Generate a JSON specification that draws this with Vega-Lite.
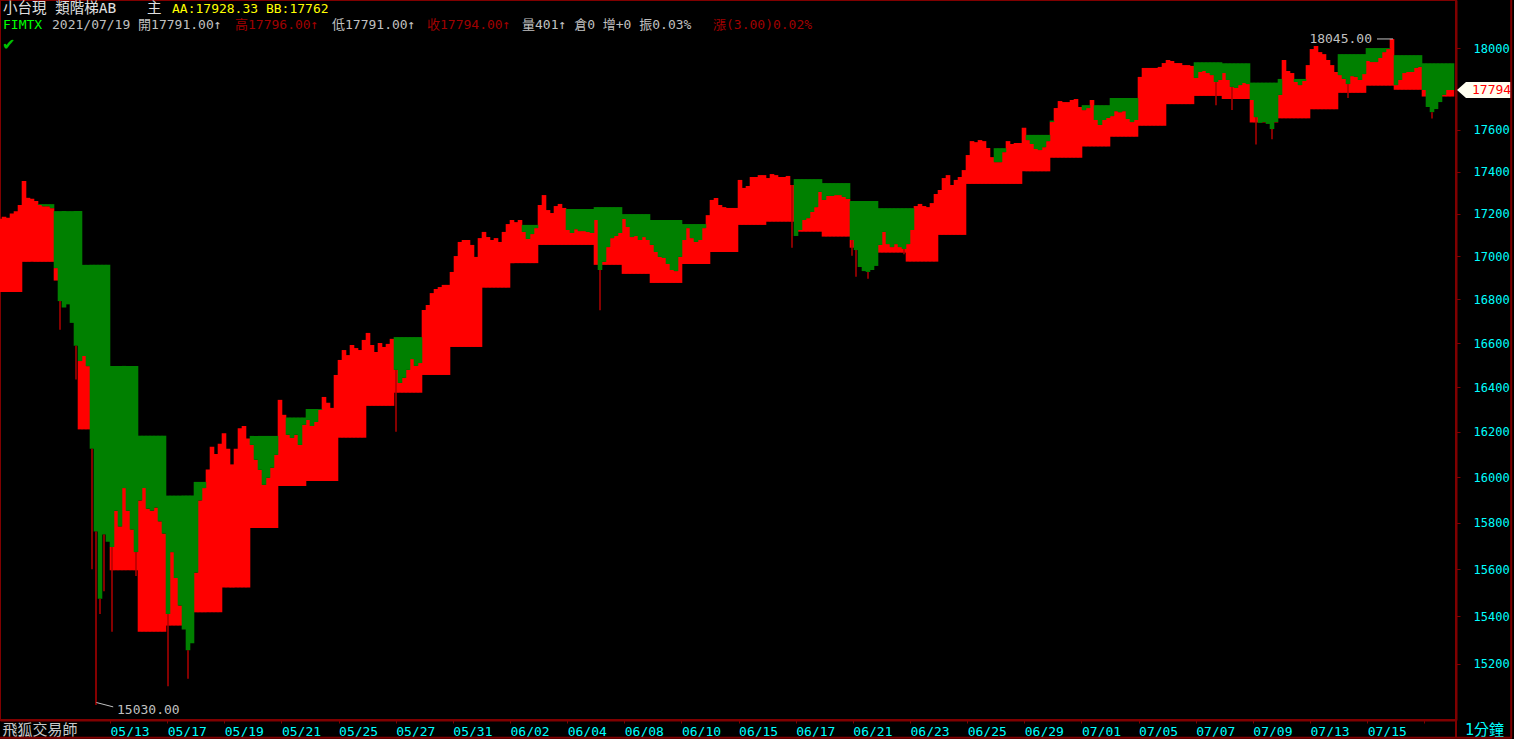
{
"$schema":"https://vega.github.io/schema/vega-lite/v6.json",
"width":1456,"height":720,
"autosize":{"type":"none"},
"padding":{"left":0,"top":0,"right":58,"bottom":19},
"background":"#000000",
"view":{"stroke":"#800000","strokeWidth":2},
"data":{"values":[
{"i":0,"p":17176,"u":17120,"l":16834},{"i":1,"p":17186,"u":17120,"l":16834},{"i":2,"p":17181,"u":17120,"l":16834},{"i":3,"p":17201,"u":17120,"l":16834},{"i":4,"p":17211,"u":17120,"l":16834},{"i":5,"p":17241,"u":17120,"l":16834},
{"i":6,"p":17355,"u":17120,"l":16974},{"i":7,"p":17275,"u":17120,"l":16974},{"i":8,"p":17270,"u":17120,"l":16974},{"i":9,"p":17260,"u":17120,"l":16974},
{"i":10,"p":17241,"u":17245,"l":16974},{"i":11,"p":17235,"u":17245,"l":16974},{"i":12,"p":17235,"u":17245,"l":16974},{"i":13,"p":17226,"u":17245,"l":16974},
{"i":14,"p":16945,"u":17212,"l":16887},{"i":15,"p":16792,"u":17212,"l":16887,"lo":16660},{"i":16,"p":16763,"u":17212,"l":16887},{"i":17,"p":16777,"u":17212,"l":16887},{"i":18,"p":16692,"u":17212,"l":16887},{"i":19,"p":16588,"u":17212,"l":16887,"lo":16434},
{"i":20,"p":16518,"u":17212,"l":16211},{"i":21,"p":16541,"u":16960,"l":16211},{"i":22,"p":16495,"u":16960,"l":16211},{"i":23,"p":16125,"u":16960,"l":16211,"lo":15600},{"i":24,"p":15763,"u":16960,"l":16211,"lo":15030},{"i":25,"p":15475,"u":16960,"l":16211,"lo":15410},{"i":26,"p":15750,"u":16960,"l":16211,"lo":15506},{"i":27,"p":15719,"u":16960,"l":16211},
{"i":28,"p":15696,"u":16496,"l":15596,"lo":15335},{"i":29,"p":15853,"u":16496,"l":15596},{"i":30,"p":15785,"u":16496,"l":15596},{"i":31,"p":15952,"u":16496,"l":15596},{"i":32,"p":15853,"u":16496,"l":15596},{"i":33,"p":15772,"u":16496,"l":15596},{"i":34,"p":15674,"u":16496,"l":15596,"lo":15572},
{"i":35,"p":15898,"u":16183,"l":15335},{"i":36,"p":15952,"u":16183,"l":15335},{"i":37,"p":15862,"u":16183,"l":15335},{"i":38,"p":15853,"u":16183,"l":15335},{"i":39,"p":15867,"u":16183,"l":15335},{"i":40,"p":15807,"u":16183,"l":15335},{"i":41,"p":15754,"u":16183,"l":15335},
{"i":42,"p":15410,"u":15919,"l":15361,"lo":15107},{"i":43,"p":15674,"u":15919,"l":15361},{"i":44,"p":15563,"u":15919,"l":15361},{"i":45,"p":15446,"u":15919,"l":15361},{"i":46,"p":15344,"u":15919,"l":15361},{"i":47,"p":15257,"u":15919,"l":15361,"lo":15138},{"i":48,"p":15287,"u":15919,"l":15361},
{"i":49,"p":15586,"u":15979,"l":15417},{"i":50,"p":15898,"u":15979,"l":15417},{"i":51,"p":15952,"u":15979,"l":15417},{"i":52,"p":16034,"u":15979,"l":15417},{"i":53,"p":16134,"u":15979,"l":15417},{"i":54,"p":16102,"u":15979,"l":15417},{"i":55,"p":16147,"u":15979,"l":15417},
{"i":56,"p":16194,"u":15979,"l":15522},{"i":57,"p":16125,"u":15979,"l":15522},{"i":58,"p":16056,"u":15979,"l":15522},{"i":59,"p":16125,"u":15979,"l":15522},{"i":60,"p":16216,"u":15979,"l":15522},{"i":61,"p":16226,"u":15979,"l":15522},{"i":62,"p":16170,"u":15979,"l":15522},
{"i":63,"p":16142,"u":16182,"l":15778},{"i":64,"p":16076,"u":16182,"l":15778},{"i":65,"p":16032,"u":16182,"l":15778},{"i":66,"p":15966,"u":16182,"l":15778},{"i":67,"p":15997,"u":16182,"l":15778},{"i":68,"p":16041,"u":16182,"l":15778},{"i":69,"p":16098,"u":16182,"l":15778},
{"i":70,"p":16343,"u":16264,"l":15961},{"i":71,"p":16276,"u":16264,"l":15961},{"i":72,"p":16187,"u":16264,"l":15961},{"i":73,"p":16173,"u":16264,"l":15961},{"i":74,"p":16187,"u":16264,"l":15961},{"i":75,"p":16142,"u":16264,"l":15961},{"i":76,"p":16231,"u":16264,"l":15961},
{"i":77,"p":16253,"u":16302,"l":15983},{"i":78,"p":16226,"u":16302,"l":15983},{"i":79,"p":16244,"u":16302,"l":15983},{"i":80,"p":16298,"u":16302,"l":15983},{"i":81,"p":16356,"u":16302,"l":15983},{"i":82,"p":16330,"u":16302,"l":15983},{"i":83,"p":16307,"u":16302,"l":15983},{"i":84,"p":16455,"u":16302,"l":15983},
{"i":85,"p":16523,"u":16302,"l":16174},{"i":86,"p":16568,"u":16302,"l":16174},{"i":87,"p":16545,"u":16302,"l":16174},{"i":88,"p":16591,"u":16302,"l":16174},{"i":89,"p":16577,"u":16302,"l":16174},{"i":90,"p":16568,"u":16302,"l":16174},{"i":91,"p":16614,"u":16302,"l":16174},
{"i":92,"p":16646,"u":16302,"l":16316},{"i":93,"p":16591,"u":16302,"l":16316},{"i":94,"p":16559,"u":16302,"l":16316},{"i":95,"p":16600,"u":16302,"l":16316},{"i":96,"p":16582,"u":16302,"l":16316},{"i":97,"p":16596,"u":16302,"l":16316},{"i":98,"p":16619,"u":16302,"l":16316},
{"i":99,"p":16478,"u":16627,"l":16375,"lo":16200},{"i":100,"p":16419,"u":16627,"l":16375},{"i":101,"p":16442,"u":16627,"l":16375},{"i":102,"p":16478,"u":16627,"l":16375},{"i":103,"p":16527,"u":16627,"l":16375},{"i":104,"p":16496,"u":16627,"l":16375},{"i":105,"p":16509,"u":16627,"l":16375},
{"i":106,"p":16751,"u":16627,"l":16455},{"i":107,"p":16774,"u":16627,"l":16455},{"i":108,"p":16829,"u":16627,"l":16455},{"i":109,"p":16848,"u":16627,"l":16455},{"i":110,"p":16857,"u":16627,"l":16455},{"i":111,"p":16867,"u":16627,"l":16455},{"i":112,"p":16867,"u":16627,"l":16455},
{"i":113,"p":16927,"u":16627,"l":16582},{"i":114,"p":17001,"u":16627,"l":16582},{"i":115,"p":17067,"u":16627,"l":16582},{"i":116,"p":17076,"u":16627,"l":16582},{"i":117,"p":17076,"u":16627,"l":16582},{"i":118,"p":17053,"u":16627,"l":16582},{"i":119,"p":16997,"u":16627,"l":16582},{"i":120,"p":17085,"u":16627,"l":16582},
{"i":121,"p":17114,"u":16627,"l":16854},{"i":122,"p":17090,"u":16627,"l":16854},{"i":123,"p":17076,"u":16627,"l":16854},{"i":124,"p":17085,"u":16627,"l":16854},{"i":125,"p":17067,"u":16627,"l":16854},{"i":126,"p":17114,"u":16627,"l":16854},{"i":127,"p":17151,"u":16627,"l":16854},
{"i":128,"p":17170,"u":16627,"l":16968},{"i":129,"p":17160,"u":16627,"l":16968},{"i":130,"p":17170,"u":16627,"l":16968},{"i":131,"p":17114,"u":17147,"l":16968},{"i":132,"p":17081,"u":17147,"l":16968},{"i":133,"p":17104,"u":17147,"l":16968},{"i":134,"p":17132,"u":17147,"l":16968},
{"i":135,"p":17241,"u":17147,"l":17053},{"i":136,"p":17288,"u":17147,"l":17053},{"i":137,"p":17217,"u":17147,"l":17053},{"i":138,"p":17203,"u":17147,"l":17053},{"i":139,"p":17236,"u":17147,"l":17053},{"i":140,"p":17246,"u":17147,"l":17053},{"i":141,"p":17227,"u":17147,"l":17053},
{"i":142,"p":17123,"u":17222,"l":17053},{"i":143,"p":17109,"u":17222,"l":17053},{"i":144,"p":17127,"u":17222,"l":17053},{"i":145,"p":17118,"u":17222,"l":17053},{"i":146,"p":17118,"u":17222,"l":17053},{"i":147,"p":17114,"u":17222,"l":17053},{"i":148,"p":17109,"u":17222,"l":17053},
{"i":149,"p":17170,"u":17231,"l":16960},{"i":150,"p":16936,"u":17231,"l":16960,"lo":16750},{"i":151,"p":16974,"u":17231,"l":16960},{"i":152,"p":17043,"u":17231,"l":16960},{"i":153,"p":17085,"u":17231,"l":16960},{"i":154,"p":17095,"u":17231,"l":16960},{"i":155,"p":17109,"u":17231,"l":16960},
{"i":156,"p":17175,"u":17198,"l":16918},{"i":157,"p":17137,"u":17198,"l":16918},{"i":158,"p":17090,"u":17198,"l":16918},{"i":159,"p":17095,"u":17198,"l":16918},{"i":160,"p":17076,"u":17198,"l":16918},{"i":161,"p":17090,"u":17198,"l":16918},{"i":162,"p":17076,"u":17198,"l":16918},
{"i":163,"p":17053,"u":17170,"l":16876},{"i":164,"p":17020,"u":17170,"l":16876},{"i":165,"p":16997,"u":17170,"l":16876},{"i":166,"p":16992,"u":17170,"l":16876},{"i":167,"p":16964,"u":17170,"l":16876},{"i":168,"p":16936,"u":17170,"l":16876},{"i":169,"p":16931,"u":17170,"l":16876},{"i":170,"p":16997,"u":17170,"l":16876},
{"i":171,"p":17076,"u":17151,"l":16964},{"i":172,"p":17132,"u":17151,"l":16964},{"i":173,"p":17085,"u":17151,"l":16964},{"i":174,"p":17067,"u":17151,"l":16964},{"i":175,"p":17076,"u":17151,"l":16964},{"i":176,"p":17132,"u":17151,"l":16964},{"i":177,"p":17193,"u":17151,"l":16964},
{"i":178,"p":17265,"u":17076,"l":17020},{"i":179,"p":17274,"u":17076,"l":17020},{"i":180,"p":17241,"u":17076,"l":17020},{"i":181,"p":17231,"u":17076,"l":17020},{"i":182,"p":17227,"u":17076,"l":17020},{"i":183,"p":17227,"u":17076,"l":17020},{"i":184,"p":17227,"u":17076,"l":17020},
{"i":185,"p":17360,"u":17076,"l":17147},{"i":186,"p":17322,"u":17076,"l":17147},{"i":187,"p":17331,"u":17076,"l":17147},{"i":188,"p":17374,"u":17076,"l":17147},{"i":189,"p":17374,"u":17076,"l":17147},{"i":190,"p":17383,"u":17076,"l":17147},{"i":191,"p":17383,"u":17076,"l":17147},
{"i":192,"p":17369,"u":17076,"l":17162},{"i":193,"p":17388,"u":17076,"l":17162},{"i":194,"p":17383,"u":17076,"l":17162},{"i":195,"p":17374,"u":17076,"l":17162},{"i":196,"p":17374,"u":17076,"l":17162},{"i":197,"p":17379,"u":17076,"l":17162},{"i":198,"p":17336,"u":17076,"l":17162,"lo":17040},
{"i":199,"p":17095,"u":17364,"l":17115},{"i":200,"p":17123,"u":17364,"l":17115},{"i":201,"p":17170,"u":17364,"l":17115},{"i":202,"p":17179,"u":17364,"l":17115},{"i":203,"p":17208,"u":17364,"l":17115},{"i":204,"p":17231,"u":17364,"l":17115},{"i":205,"p":17303,"u":17364,"l":17115},
{"i":206,"p":17265,"u":17345,"l":17092},{"i":207,"p":17284,"u":17345,"l":17092},{"i":208,"p":17284,"u":17345,"l":17092},{"i":209,"p":17288,"u":17345,"l":17092},{"i":210,"p":17288,"u":17345,"l":17092},{"i":211,"p":17279,"u":17345,"l":17092},{"i":212,"p":17270,"u":17345,"l":17092},
{"i":213,"p":17076,"u":17260,"l":17040,"lo":17003},{"i":214,"p":17029,"u":17260,"l":17040,"lo":16905},{"i":215,"p":16950,"u":17260,"l":17040},{"i":216,"p":16931,"u":17260,"l":17040},{"i":217,"p":16927,"u":17260,"l":17040,"lo":16895},{"i":218,"p":16936,"u":17260,"l":17040},{"i":219,"p":16955,"u":17260,"l":17040},
{"i":220,"p":17053,"u":17226,"l":17017},{"i":221,"p":17114,"u":17226,"l":17017},{"i":222,"p":17057,"u":17226,"l":17017},{"i":223,"p":17043,"u":17226,"l":17017},{"i":224,"p":17057,"u":17226,"l":17017},{"i":225,"p":17043,"u":17226,"l":17017},{"i":226,"p":17034,"u":17226,"l":17017,"lo":17010},
{"i":227,"p":17057,"u":17226,"l":16975},{"i":228,"p":17123,"u":17226,"l":16975},{"i":229,"p":17236,"u":17226,"l":16975},{"i":230,"p":17246,"u":17226,"l":16975},{"i":231,"p":17236,"u":17226,"l":16975},{"i":232,"p":17231,"u":17226,"l":16975},{"i":233,"p":17250,"u":17226,"l":16975},{"i":234,"p":17293,"u":17226,"l":16975},
{"i":235,"p":17312,"u":17076,"l":17100},{"i":236,"p":17369,"u":17076,"l":17100},{"i":237,"p":17383,"u":17076,"l":17100},{"i":238,"p":17336,"u":17076,"l":17100},{"i":239,"p":17360,"u":17076,"l":17100},{"i":240,"p":17374,"u":17076,"l":17100},{"i":241,"p":17407,"u":17076,"l":17100},
{"i":242,"p":17479,"u":17076,"l":17341},{"i":243,"p":17546,"u":17076,"l":17341},{"i":244,"p":17541,"u":17076,"l":17341},{"i":245,"p":17551,"u":17076,"l":17341},{"i":246,"p":17546,"u":17076,"l":17341},{"i":247,"p":17513,"u":17076,"l":17341},{"i":248,"p":17469,"u":17076,"l":17341},
{"i":249,"p":17445,"u":17512,"l":17341},{"i":250,"p":17445,"u":17512,"l":17341},{"i":251,"p":17493,"u":17512,"l":17341},{"i":252,"p":17546,"u":17512,"l":17341},{"i":253,"p":17532,"u":17512,"l":17341},{"i":254,"p":17537,"u":17512,"l":17341},{"i":255,"p":17537,"u":17512,"l":17341},
{"i":256,"p":17610,"u":17576,"l":17401},{"i":257,"p":17551,"u":17576,"l":17401},{"i":258,"p":17532,"u":17576,"l":17401},{"i":259,"p":17508,"u":17576,"l":17401},{"i":260,"p":17503,"u":17576,"l":17401},{"i":261,"p":17517,"u":17576,"l":17401},{"i":262,"p":17546,"u":17576,"l":17401},
{"i":263,"p":17638,"u":17645,"l":17466},{"i":264,"p":17706,"u":17645,"l":17466},{"i":265,"p":17740,"u":17645,"l":17466},{"i":266,"p":17735,"u":17645,"l":17466},{"i":267,"p":17735,"u":17645,"l":17466},{"i":268,"p":17745,"u":17645,"l":17466},{"i":269,"p":17750,"u":17645,"l":17466},{"i":270,"p":17711,"u":17645,"l":17466},
{"i":271,"p":17696,"u":17720,"l":17520},{"i":272,"p":17706,"u":17720,"l":17520},{"i":273,"p":17745,"u":17720,"l":17520},{"i":274,"p":17648,"u":17720,"l":17520},{"i":275,"p":17624,"u":17720,"l":17520},{"i":276,"p":17648,"u":17720,"l":17520},{"i":277,"p":17658,"u":17720,"l":17520},
{"i":278,"p":17667,"u":17755,"l":17567},{"i":279,"p":17691,"u":17755,"l":17567},{"i":280,"p":17686,"u":17755,"l":17567},{"i":281,"p":17691,"u":17755,"l":17567},{"i":282,"p":17653,"u":17755,"l":17567},{"i":283,"p":17638,"u":17755,"l":17567},{"i":284,"p":17648,"u":17755,"l":17567},
{"i":285,"p":17858,"u":17600,"l":17620},{"i":286,"p":17902,"u":17600,"l":17620},{"i":287,"p":17902,"u":17600,"l":17620},{"i":288,"p":17902,"u":17600,"l":17620},{"i":289,"p":17902,"u":17600,"l":17620},{"i":290,"p":17907,"u":17600,"l":17620},{"i":291,"p":17926,"u":17600,"l":17620},
{"i":292,"p":17941,"u":17600,"l":17725},{"i":293,"p":17936,"u":17600,"l":17725},{"i":294,"p":17926,"u":17600,"l":17725},{"i":295,"p":17926,"u":17600,"l":17725},{"i":296,"p":17916,"u":17600,"l":17725},{"i":297,"p":17916,"u":17600,"l":17725},{"i":298,"p":17912,"u":17600,"l":17725},
{"i":299,"p":17853,"u":17930,"l":17765},{"i":300,"p":17882,"u":17930,"l":17765},{"i":301,"p":17887,"u":17930,"l":17765},{"i":302,"p":17877,"u":17930,"l":17765},{"i":303,"p":17867,"u":17930,"l":17765},{"i":304,"p":17833,"u":17930,"l":17765,"lo":17720},{"i":305,"p":17843,"u":17930,"l":17765},
{"i":306,"p":17877,"u":17925,"l":17750},{"i":307,"p":17843,"u":17925,"l":17750},{"i":308,"p":17809,"u":17925,"l":17750,"lo":17696},{"i":309,"p":17804,"u":17925,"l":17750},{"i":310,"p":17818,"u":17925,"l":17750},{"i":311,"p":17828,"u":17925,"l":17750},{"i":312,"p":17823,"u":17925,"l":17750},
{"i":313,"p":17745,"u":17830,"l":17636},{"i":314,"p":17662,"u":17830,"l":17636,"lo":17530},{"i":315,"p":17634,"u":17830,"l":17636},{"i":316,"p":17638,"u":17830,"l":17636},{"i":317,"p":17629,"u":17830,"l":17636},{"i":318,"p":17604,"u":17830,"l":17636,"lo":17555},{"i":319,"p":17638,"u":17830,"l":17636},
{"i":320,"p":17770,"u":17848,"l":17656},{"i":321,"p":17941,"u":17848,"l":17656},{"i":322,"p":17887,"u":17848,"l":17656},{"i":323,"p":17877,"u":17848,"l":17656},{"i":324,"p":17833,"u":17848,"l":17656},{"i":325,"p":17818,"u":17848,"l":17656},{"i":326,"p":17838,"u":17848,"l":17656},{"i":327,"p":17916,"u":17848,"l":17656},
{"i":328,"p":17995,"u":17794,"l":17700},{"i":329,"p":18010,"u":17794,"l":17700},{"i":330,"p":17980,"u":17794,"l":17700},{"i":331,"p":17970,"u":17794,"l":17700},{"i":332,"p":17941,"u":17794,"l":17700},{"i":333,"p":17916,"u":17794,"l":17700},{"i":334,"p":17882,"u":17794,"l":17700},
{"i":335,"p":17867,"u":17970,"l":17780},{"i":336,"p":17848,"u":17970,"l":17780},{"i":337,"p":17823,"u":17970,"l":17780,"lo":17755},{"i":338,"p":17862,"u":17970,"l":17780},{"i":339,"p":17858,"u":17970,"l":17780},{"i":340,"p":17843,"u":17970,"l":17780},{"i":341,"p":17872,"u":17970,"l":17780},
{"i":342,"p":17936,"u":18000,"l":17815},{"i":343,"p":17931,"u":18000,"l":17815},{"i":344,"p":17931,"u":18000,"l":17815},{"i":345,"p":17951,"u":18000,"l":17815},{"i":346,"p":17980,"u":18000,"l":17815},{"i":347,"p":17995,"u":18000,"l":17815},{"i":348,"p":18045,"u":18000,"l":17815},
{"i":349,"p":17818,"u":17965,"l":17795},{"i":350,"p":17843,"u":17965,"l":17795},{"i":351,"p":17877,"u":17965,"l":17795},{"i":352,"p":17882,"u":17965,"l":17795},{"i":353,"p":17882,"u":17965,"l":17795},{"i":354,"p":17902,"u":17965,"l":17795},{"i":355,"p":17907,"u":17965,"l":17795},
{"i":356,"p":17794,"u":17925,"l":17762},{"i":357,"p":17711,"u":17925,"l":17762},{"i":358,"p":17686,"u":17925,"l":17762,"lo":17655},{"i":359,"p":17701,"u":17925,"l":17762},{"i":360,"p":17735,"u":17925,"l":17762},{"i":361,"p":17770,"u":17925,"l":17762},{"i":362,"p":17794,"u":17925,"l":17762},{"i":363,"p":17794,"u":17925,"l":17762}
]},
"layer":[
{"transform":[{"filter":"datum.p > datum.l"}],
 "mark":{"type":"bar","width":4.6,"color":"#ff0000"},
 "encoding":{
  "x":{"field":"i","type":"quantitative","scale":{"domain":[0,364],"nice":false,"zero":false,"padding":0},
   "axis":{"orient":"bottom","values":[27.5,34.64,41.79,48.93,56.07,63.21,70.36,77.5,84.64,91.79,98.93,106.07,113.21,120.36,127.5,134.64,141.79,148.93,156.07,163.21,170.36,177.5,184.64,191.79,198.93,206.07,213.21,220.36,227.5,234.64,241.79,248.93,256.07,263.21,270.36,277.5,284.64,291.79,298.93,306.07,313.21,320.36,327.5,334.64,341.79,348.93,356.07,363.21],
    "labelExpr":"['05/13','','05/17','','05/19','','05/21','','05/25','','05/27','','05/31','','06/02','','06/04','','06/08','','06/10','','06/15','','06/17','','06/21','','06/23','','06/25','','06/29','','07/01','','07/05','','07/07','','07/09','','07/13','','07/15','','',''][round((datum.value-27.5)/7.143)]",
    "labelAlign":"left","labelBaseline":"top","labelPadding":2,"labelFlush":false,"labelOverlap":false,"labelBound":false,
    "labelColor":"#00ffff","labelFont":"DejaVu Sans Mono","labelFontSize":13,
    "tickColor":"#800000","tickSize":3,"tickWidth":1,"domainColor":"#800000","domainWidth":2,"grid":false,
    "title":"飛狐交易師","titleColor":"#c8c8c8","titleFont":"Noto Sans CJK TC","titleFontSize":15,"titleFontWeight":"normal",
    "titleX":2,"titleY":9,"titleAlign":"left","titleBaseline":"middle","titleAnchor":"start"}},
  "y":{"field":"p","type":"quantitative","scale":{"type":"log","domain":[14968,18239],"nice":false,"padding":0},
   "axis":{"orient":"right","values":[15200,15400,15600,15800,16000,16200,16400,16600,16800,17000,17200,17400,17600,18000],"format":"d",
    "labelColor":"#00ffff","labelFont":"DejaVu Sans Mono","labelFontSize":12,"labelAlign":"left","labelBaseline":"middle","labelPadding":13,
    "labelFlush":false,"labelOverlap":false,"labelBound":false,
    "tickColor":"#800000","tickSize":4,"domainColor":"#800000","domainWidth":2,"grid":false,
    "title":"1分鐘","titleAngle":0,"titleX":28,"titleY":729,"titleAlign":"center","titleBaseline":"middle","titleColor":"#00ffff",
    "titleFont":"DejaVu Sans Mono, Noto Sans CJK TC","titleFontSize":15,"titleFontWeight":"normal"}},
  "y2":{"field":"l"}}},
{"transform":[{"filter":"datum.p < datum.u"}],
 "mark":{"type":"bar","width":4.6,"color":"#008000"},
 "encoding":{
  "x":{"field":"i","type":"quantitative","scale":{"domain":[0,364],"nice":false,"zero":false,"padding":0}},
  "y":{"field":"p","type":"quantitative","scale":{"type":"log","domain":[14968,18239],"nice":false,"padding":0}},
  "y2":{"field":"u"}}},
{"transform":[{"filter":"isValid(datum.lo)"}],
 "mark":{"type":"rule","color":"#b00000","strokeWidth":1.5},
 "encoding":{
  "x":{"field":"i","type":"quantitative","scale":{"domain":[0,364],"nice":false,"zero":false,"padding":0}},
  "y":{"field":"p","type":"quantitative","scale":{"type":"log","domain":[14968,18239],"nice":false,"padding":0}},
  "y2":{"field":"lo"}}},
{"data":{"values":[{}]},"mark":{"type":"rule","color":"#c0c0c0","strokeWidth":1},
 "encoding":{"x":{"datum":24.1,"type":"quantitative","scale":{"domain":[0,364],"nice":false,"zero":false,"padding":0}},"x2":{"datum":28.3},
  "y":{"datum":15040,"type":"quantitative","scale":{"type":"log","domain":[14968,18239],"nice":false,"padding":0}},"y2":{"datum":15022}}},
{"data":{"values":[{}]},"mark":{"type":"text","text":"15030.00","font":"DejaVu Sans Mono","fontSize":13,"color":"#c0c0c0","align":"left","baseline":"middle"},
 "encoding":{"x":{"datum":29.25,"type":"quantitative","scale":{"domain":[0,364],"nice":false,"zero":false,"padding":0}},
  "y":{"datum":15010,"type":"quantitative","scale":{"type":"log","domain":[14968,18239],"nice":false,"padding":0}}}},
{"data":{"values":[{}]},"mark":{"type":"rule","color":"#c0c0c0","strokeWidth":1},
 "encoding":{"x":{"datum":344.25,"type":"quantitative","scale":{"domain":[0,364],"nice":false,"zero":false,"padding":0}},"x2":{"datum":348.25},
  "y":{"datum":18045,"type":"quantitative","scale":{"type":"log","domain":[14968,18239],"nice":false,"padding":0}}}},
{"data":{"values":[{}]},"mark":{"type":"text","text":"18045.00","font":"DejaVu Sans Mono","fontSize":13,"color":"#c0c0c0","align":"right","baseline":"middle"},
 "encoding":{"x":{"datum":343,"type":"quantitative","scale":{"domain":[0,364],"nice":false,"zero":false,"padding":0}},
  "y":{"datum":18045,"type":"quantitative","scale":{"type":"log","domain":[14968,18239],"nice":false,"padding":0}}}},
{"data":{"values":[{}]},"mark":{"type":"text","text":"小台現 類階梯AB","font":"DejaVu Sans Mono, Noto Sans CJK TC","fontSize":14.5,"color":"#e0e0e0","align":"left","baseline":"middle"},
 "encoding":{"x":{"datum":0.75,"type":"quantitative","scale":{"domain":[0,364],"nice":false,"zero":false,"padding":0}},
  "y":{"datum":18194,"type":"quantitative","scale":{"type":"log","domain":[14968,18239],"nice":false,"padding":0}}}},
{"data":{"values":[{}]},"mark":{"type":"text","text":"主","font":"DejaVu Sans Mono, Noto Sans CJK TC","fontSize":14.5,"color":"#e0e0e0","align":"left","baseline":"middle"},
 "encoding":{"x":{"datum":36.75,"type":"quantitative","scale":{"domain":[0,364],"nice":false,"zero":false,"padding":0}},
  "y":{"datum":18194,"type":"quantitative","scale":{"type":"log","domain":[14968,18239],"nice":false,"padding":0}}}},
{"data":{"values":[{}]},"mark":{"type":"text","text":"AA:17928.33 BB:17762","font":"DejaVu Sans Mono, Noto Sans CJK TC","fontSize":13,"color":"#ffff00","align":"left","baseline":"middle"},
 "encoding":{"x":{"datum":43,"type":"quantitative","scale":{"domain":[0,364],"nice":false,"zero":false,"padding":0}},
  "y":{"datum":18194,"type":"quantitative","scale":{"type":"log","domain":[14968,18239],"nice":false,"padding":0}}}},
{"data":{"values":[{}]},"mark":{"type":"text","text":"FIMTX","font":"DejaVu Sans Mono, Noto Sans CJK TC","fontSize":13,"color":"#00ff00","align":"left","baseline":"middle"},
 "encoding":{"x":{"datum":0.75,"type":"quantitative","scale":{"domain":[0,364],"nice":false,"zero":false,"padding":0}},
  "y":{"datum":18114,"type":"quantitative","scale":{"type":"log","domain":[14968,18239],"nice":false,"padding":0}}}},
{"data":{"values":[{}]},"mark":{"type":"text","text":"2021/07/19 開17791.00↑","font":"DejaVu Sans Mono, Noto Sans CJK TC","fontSize":13,"color":"#c0c0c0","align":"left","baseline":"middle"},
 "encoding":{"x":{"datum":13,"type":"quantitative","scale":{"domain":[0,364],"nice":false,"zero":false,"padding":0}},
  "y":{"datum":18114,"type":"quantitative","scale":{"type":"log","domain":[14968,18239],"nice":false,"padding":0}}}},
{"data":{"values":[{}]},"mark":{"type":"text","text":"高17796.00↑","font":"DejaVu Sans Mono, Noto Sans CJK TC","fontSize":13,"color":"#a00000","align":"left","baseline":"middle"},
 "encoding":{"x":{"datum":58.75,"type":"quantitative","scale":{"domain":[0,364],"nice":false,"zero":false,"padding":0}},
  "y":{"datum":18114,"type":"quantitative","scale":{"type":"log","domain":[14968,18239],"nice":false,"padding":0}}}},
{"data":{"values":[{}]},"mark":{"type":"text","text":"低17791.00↑","font":"DejaVu Sans Mono, Noto Sans CJK TC","fontSize":13,"color":"#c0c0c0","align":"left","baseline":"middle"},
 "encoding":{"x":{"datum":83,"type":"quantitative","scale":{"domain":[0,364],"nice":false,"zero":false,"padding":0}},
  "y":{"datum":18114,"type":"quantitative","scale":{"type":"log","domain":[14968,18239],"nice":false,"padding":0}}}},
{"data":{"values":[{}]},"mark":{"type":"text","text":"收17794.00↑","font":"DejaVu Sans Mono, Noto Sans CJK TC","fontSize":13,"color":"#a00000","align":"left","baseline":"middle"},
 "encoding":{"x":{"datum":106.75,"type":"quantitative","scale":{"domain":[0,364],"nice":false,"zero":false,"padding":0}},
  "y":{"datum":18114,"type":"quantitative","scale":{"type":"log","domain":[14968,18239],"nice":false,"padding":0}}}},
{"data":{"values":[{}]},"mark":{"type":"text","text":"量401↑ 倉0 增+0 振0.03%","font":"DejaVu Sans Mono, Noto Sans CJK TC","fontSize":13,"color":"#c0c0c0","align":"left","baseline":"middle"},
 "encoding":{"x":{"datum":130.5,"type":"quantitative","scale":{"domain":[0,364],"nice":false,"zero":false,"padding":0}},
  "y":{"datum":18114,"type":"quantitative","scale":{"type":"log","domain":[14968,18239],"nice":false,"padding":0}}}},
{"data":{"values":[{}]},"mark":{"type":"text","text":"漲(3.00)0.02%","font":"DejaVu Sans Mono, Noto Sans CJK TC","fontSize":13,"color":"#a00000","align":"left","baseline":"middle"},
 "encoding":{"x":{"datum":178.25,"type":"quantitative","scale":{"domain":[0,364],"nice":false,"zero":false,"padding":0}},
  "y":{"datum":18114,"type":"quantitative","scale":{"type":"log","domain":[14968,18239],"nice":false,"padding":0}}}},
{"data":{"values":[{}]},"mark":{"type":"text","text":"✔","font":"DejaVu Sans","fontSize":16,"color":"#00c000","align":"left","baseline":"middle"},
 "encoding":{"x":{"datum":0.5,"type":"quantitative","scale":{"domain":[0,364],"nice":false,"zero":false,"padding":0}},
  "y":{"datum":18015,"type":"quantitative","scale":{"type":"log","domain":[14968,18239],"nice":false,"padding":0}}}},
{"data":{"values":[{}]},"mark":{"type":"point","shape":"M-1,0L-0.667,-0.296L1,-0.296L1,0.296L-0.667,0.296Z","size":2916,"filled":true,"color":"#fffff0","opacity":1,"strokeWidth":0},
 "encoding":{"x":{"datum":371,"type":"quantitative","scale":{"domain":[0,364],"nice":false,"zero":false,"padding":0}},
  "y":{"datum":17794,"type":"quantitative","scale":{"type":"log","domain":[14968,18239],"nice":false,"padding":0}}}},
{"data":{"values":[{}]},"mark":{"type":"text","text":"17794","font":"DejaVu Sans Mono","fontSize":13,"color":"#ff0000","align":"left","baseline":"middle"},
 "encoding":{"x":{"datum":368,"type":"quantitative","scale":{"domain":[0,364],"nice":false,"zero":false,"padding":0}},
  "y":{"datum":17794,"type":"quantitative","scale":{"type":"log","domain":[14968,18239],"nice":false,"padding":0}}}},
{"data":{"values":[{}]},"mark":{"type":"rule","color":"#800000","strokeWidth":2},
 "encoding":{"x":{"datum":0,"type":"quantitative","scale":{"domain":[0,364],"nice":false,"zero":false,"padding":0}},"x2":{"datum":378},
  "y":{"datum":14895,"type":"quantitative","scale":{"type":"log","domain":[14968,18239],"nice":false,"padding":0}}}},
{"data":{"values":[{}]},"mark":{"type":"rule","color":"#800000","strokeWidth":2},
 "encoding":{"x":{"datum":377.8,"type":"quantitative","scale":{"domain":[0,364],"nice":false,"zero":false,"padding":0}},
  "y":{"datum":18239,"type":"quantitative","scale":{"type":"log","domain":[14968,18239],"nice":false,"padding":0}},"y2":{"datum":14895}}},
{"data":{"values":[{}]},"mark":{"type":"rule","color":"#800000","strokeWidth":2},
 "encoding":{"x":{"datum":364,"type":"quantitative","scale":{"domain":[0,364],"nice":false,"zero":false,"padding":0}},
  "y":{"datum":14968,"type":"quantitative","scale":{"type":"log","domain":[14968,18239],"nice":false,"padding":0}},"y2":{"datum":14895}}}
]
}
